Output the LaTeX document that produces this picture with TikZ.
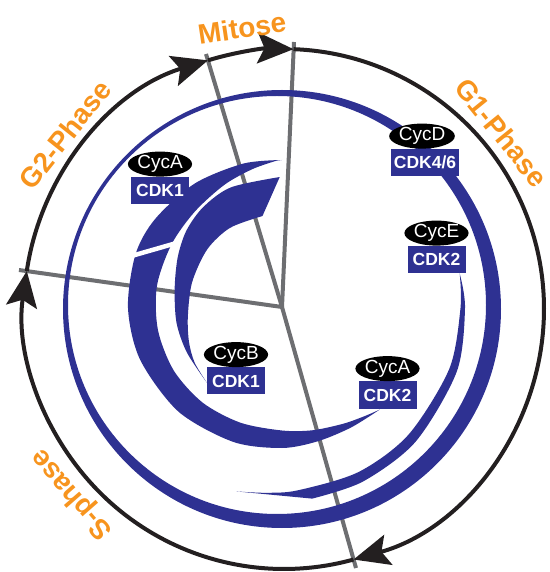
\documentclass[tikz,border=0pt]{standalone}
\usepackage{fontspec}
\setmainfont{Liberation Sans}
\usetikzlibrary{arrows.meta,shapes.geometric,positioning}

\definecolor{cycblue}{RGB}{46,49,146}
\definecolor{phaseorange}{RGB}{247,148,30}
\definecolor{ringblack}{RGB}{35,31,32}
\definecolor{axisgray}{RGB}{109,110,113}

\tikzset{
  cyclin/.style={ellipse, fill=black, text=white, minimum width=64pt, minimum height=25pt,
    inner sep=0pt, font=\fontsize{19}{19}\selectfont},
  kinase/.style={rectangle, fill=cycblue, text=white, minimum width=58pt, minimum height=27pt,
    inner xsep=2pt, inner ysep=0pt, font=\bfseries\fontsize{17.5}{17.5}\selectfont},
  phase/.style={text=phaseorange, inner sep=0pt, font=\bfseries\fontsize{28}{28}\selectfont},
  cycleline/.style={ringblack, line width=4pt, -{Stealth[length=36pt,width=31pt,inset=7pt]}},
  phaseline/.style={axisgray, line width=4pt},
  band/.style={fill=cycblue},
}

\begin{document}
\begin{tikzpicture}[x=1pt,y=1pt]
  \useasboundingbox (-282,-264) rectangle (267,308);
  \coordinate (hub) at (0,1);
  \coordinate (ctr) at (2,-1);
  % phase borders, all from the hub
  \coordinate (MG1) at (12,266);
  \coordinate (G2M) at (-76,254);
  \coordinate (G1S) at (74,-260);
  \coordinate (SG2) at (-263,38);
  \foreach \p in {MG1,G2M,G1S,SG2}
    \draw[phaseline] (hub) -- (\p);
  % the cycle, one arrow per phase
  \foreach \a/\b in {87.9/-74.5, -74.5/-188.4, 171.6/107, 107/87.9}
    \draw[cycleline] ([shift={(\a:260)}]ctr) arc[start angle=\a, end angle=\b, radius=260];

  % CycD/CDK4/6 ring
  \fill[band, even odd rule] (0,-1) circle[radius=219] (-5,3) circle[radius=209];
  % CycE/CDK2
  \fill[band] plot[smooth] coordinates {(11:181) (0:183) (-20:186) (-45:189) (-65:191.5) (-81:193)}
    -- plot[smooth] coordinates {(-104:189) (-95:185.5) (-85:183) (-65:181) (-45:179) (-20:178) (0:178.5) (11:181)} -- cycle;
  % CycA/CDK2 running on into CycA/CDK1
  \fill[band] plot[smooth] coordinates {(-46:141) (-60:138) (-75:138) (-90:140) (-110:142.5) (-135:146.5)
      (-160:151) (-180:154) (-200:156) (-215:155) (-235:152) (-255:149.5) (-270:148)}
    -- plot[smooth] coordinates {(-268:147.5) (-258:142) (-245:136) (-228:130) (-210:127.5) (-190:127)
      (-170:126) (-150:125) (-130:123.5) (-110:122) (-90:122.5) (-76:126) (-62:131) (-52:136.5) (-46:141)} -- cycle;
  \draw[white, line width=4.5pt] (-152,51.6) -- (-104,65.4);
  % CycB/CDK1
  \fill[band] plot[smooth] coordinates {(-135:106) (-155:105) (-172:106.5) (170:109) (154:116) (141:123)
      (128:128) (113:131) (91:131)}
    -- plot[smooth] coordinates {(102:94) (123:95.5) (142:95) (164:93.5) (-175:94.5) (-160:99) (-148:103) (-135:106)} -- cycle;

  % complexes
  \node[kinase, minimum width=68pt] (kD) at (143,145.5) {CDK4/6};
  \node[cyclin, above=0pt of kD, xshift=-3pt] (cD) {CycD};
  \node[kinase] (kE) at (154.5,48.5) {CDK2};
  \node[cyclin, above=0pt of kE] (cE) {CycE};
  \node[kinase] (kA1) at (-122,117.5) {CDK1};
  \node[cyclin, above=0pt of kA1] (cA1) {CycA};
  \node[kinase] (kB) at (-46,-73) {CDK1};
  \node[cyclin, above=0pt of kB] (cB) {CycB};
  \node[kinase] (kA2) at (105.5,-87) {CDK2};
  \node[cyclin, above=0pt of kA2] (cA2) {CycA};

  % phase names round the outside
  \foreach \ang/\rad/\txt in {98.5/284/Mitose, 141.5/280/G2-Phase, 39/280/G1-Phase, 221.1/281/S-phase}
    \node[phase, rotate=\ang-90] at ([shift={(\ang:\rad)}]ctr) {\txt};
\end{tikzpicture}
\end{document}
